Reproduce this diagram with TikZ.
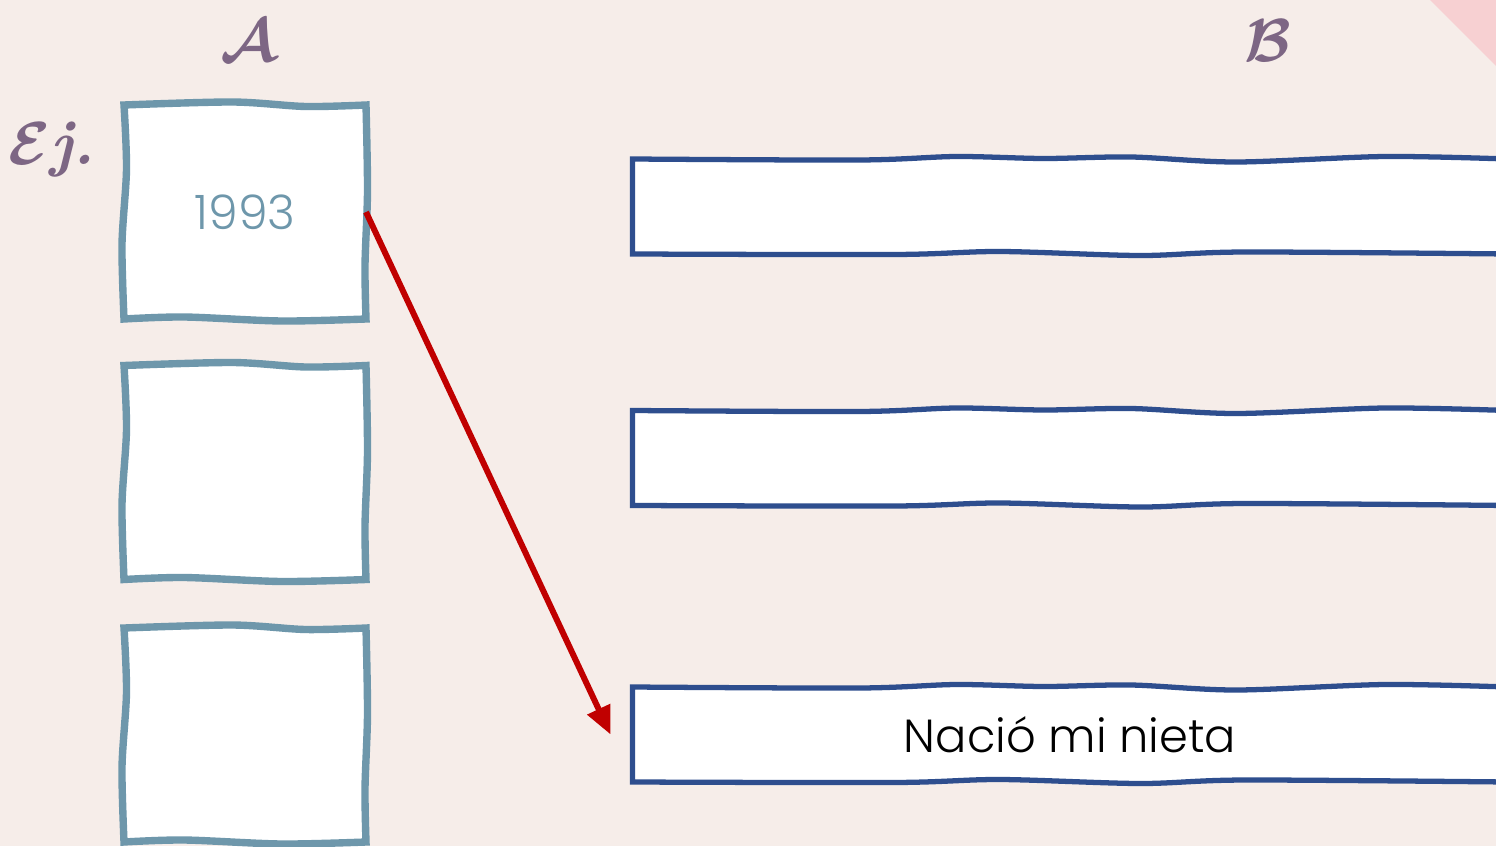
\documentclass[tikz,border=0pt]{standalone}
\usepackage{fontspec}
\newfontfamily\gothic{Poppins}[UprightFont={* Light}]
\usetikzlibrary{arrows.meta,calc}

\definecolor{paper}{HTML}{F6EDE9}
\definecolor{blush}{HTML}{F7D0D2}
\definecolor{plum}{HTML}{7D6684}
\definecolor{frameA}{HTML}{6E97AB}
\definecolor{frameB}{HTML}{2E4E8E}
\definecolor{arrowred}{HTML}{C00000}

\pgfdeclarelayer{paperlayer}
\pgfdeclarelayer{framelayer}
\pgfsetlayers{paperlayer,framelayer,main}

\tikzset{
  abox/.style={minimum width=2.42cm, minimum height=2.14cm, outer sep=0pt,
    text=frameA, font=\gothic\fontsize{13.5}{16}\selectfont},
  bbox/.style={minimum width=8.75cm, minimum height=0.95cm, outer sep=0pt,
    text=black, font=\gothic\fontsize{13.2}{16}\selectfont},
  aline/.style={draw=frameA, line width=2.1pt, fill=white},
  bline/.style={draw=frameB, line width=1.5pt, fill=white},
  lbl/.style={text=plum, inner sep=0pt, font=\boldmath\bfseries\fontsize{18}{22}\selectfont},
  arr/.style={draw=arrowred, line width=1.7pt, -{Triangle[length=0.28cm,width=0.24cm]}}
}

\newcommand{\aframe}[1]{%
  \filldraw[aline]
    plot[smooth] coordinates {(#1.north west) ($(#1.north west)!0.45!(#1.north east)+(0,0.03)$) ($(#1.north west)!0.75!(#1.north east)+(0,-0.015)$) (#1.north east)}
    -- plot[smooth] coordinates {(#1.north east) ($(#1.north east)!0.4!(#1.south east)+(0.015,0)$) ($(#1.north east)!0.75!(#1.south east)+(-0.01,0)$) (#1.south east)}
    -- plot[smooth] coordinates {(#1.south east) ($(#1.south east)!0.35!(#1.south west)+(0,-0.02)$) ($(#1.south east)!0.75!(#1.south west)+(0,0.02)$) (#1.south west)}
    -- plot[smooth] coordinates {(#1.south west) ($(#1.south west)!0.35!(#1.north west)+(-0.02,0)$) ($(#1.south west)!0.7!(#1.north west)+(0.025,0)$) (#1.north west)}
    -- cycle;}

\newcommand{\bframe}[1]{%
  \filldraw[bline]
    plot[smooth] coordinates {(#1.north west) ($(#1.north west)!0.26!(#1.north east)+(0,-0.01)$) ($(#1.north west)!0.37!(#1.north east)+(0,0.025)$) ($(#1.north west)!0.47!(#1.north east)+(0,0.005)$) ($(#1.north west)!0.57!(#1.north east)+(0,0.02)$) ($(#1.north west)!0.69!(#1.north east)+(0,-0.03)$) ($(#1.north west)!0.86!(#1.north east)+(0,0.025)$) (#1.north east)}
    -- (#1.south east)
    -- plot[smooth] coordinates {(#1.south east) ($(#1.south east)!0.3!(#1.south west)+(0,0.02)$) ($(#1.south east)!0.42!(#1.south west)+(0,-0.015)$) ($(#1.south east)!0.58!(#1.south west)+(0,0.025)$) ($(#1.south east)!0.7!(#1.south west)+(0,-0.005)$) (#1.south west)}
    -- cycle;}

\begin{document}
\begin{tikzpicture}
  \useasboundingbox (0,0) rectangle (14.96,-8.46);
  \begin{pgfonlayer}{paperlayer}
    \fill[paper] (0,0) rectangle (14.96,-8.46);
    \fill[blush] (14.30,0) -- (14.96,0) -- (14.96,-0.66) -- cycle;
  \end{pgfonlayer}

  \node[lbl] (la) at (2.48,-0.41) {$\mathcal{A}$};
  \node[lbl] (lb) at (12.68,-0.41) {$\mathcal{B}$};
  \node[lbl, anchor=base] (ej) at (0.52,-1.65) {$\mathcal{E}$\textit{j.}};

  \node[abox] (a1) at (2.45,-2.12) {1993};
  \node[abox] (a2) at (2.45,-4.725) {};
  \node[abox] (a3) at (2.45,-7.35) {};

  \node[bbox] (b1) at (10.70,-2.065) {};
  \node[bbox] (b2) at (10.70,-4.58) {};
  \node[bbox] (b3) at (10.70,-7.345) {Nació mi nieta};
  \coordinate (tip) at ([xshift=-0.22cm]b3.west);

  \begin{pgfonlayer}{framelayer}
    \foreach \n in {a1,a2,a3} {\aframe{\n}}
    \foreach \n in {b1,b2,b3} {\bframe{\n}}
  \end{pgfonlayer}

  \draw[arr] (a1.east) -- (tip);
\end{tikzpicture}
\end{document}
